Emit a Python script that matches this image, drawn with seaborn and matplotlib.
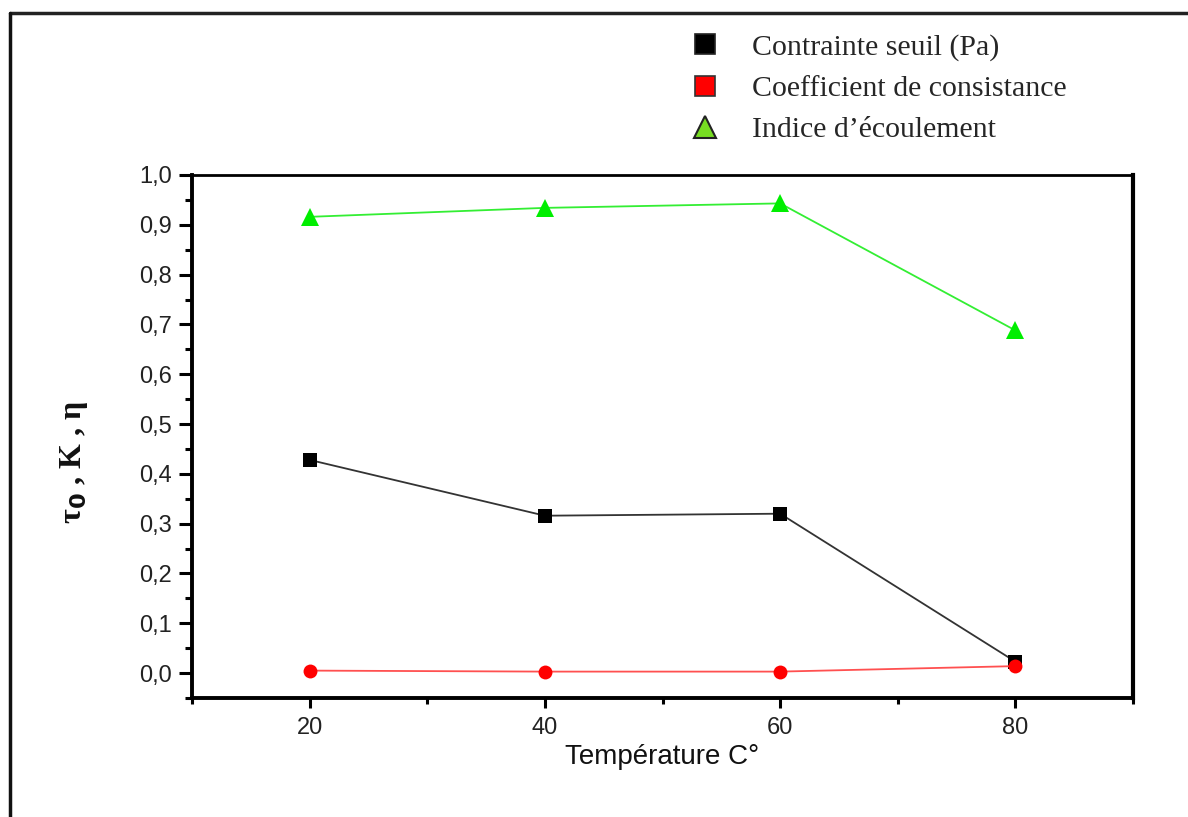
import matplotlib
matplotlib.use("Agg")
import matplotlib.pyplot as plt
import seaborn as sns
import numpy as np
from matplotlib.lines import Line2D
from matplotlib.ticker import MultipleLocator, FuncFormatter

temperature = [20, 40, 60, 80]
contrainte_seuil = [0.428, 0.316, 0.320, 0.023]
coeff_consistance = [0.005, 0.003, 0.003, 0.014]
indice_ecoulement = [0.916, 0.934, 0.943, 0.688]
labels = ["Contrainte seuil (Pa)", "Coefficient de consistance", "Indice d\u2019\u00e9coulement"]

sns.set_theme(style="white")
plt.rcParams['font.family'] = ['Liberation Sans', 'DejaVu Sans']

fig = plt.figure(figsize=(11.88, 8.17), dpi=100)
ax = fig.add_axes([192/1188, 1-698/817, (1133-192)/1188, (698-175)/817])

sns.lineplot(x=temperature, y=indice_ecoulement, ax=ax, color="#33ee33", lw=1.3,
             marker="^", markersize=13, markeredgewidth=0, markerfacecolor="#00ee00", legend=False)
sns.lineplot(x=temperature, y=contrainte_seuil, ax=ax, color="#333333", lw=1.3,
             marker="s", markersize=10, markeredgewidth=0, markerfacecolor="black", legend=False)
sns.lineplot(x=temperature, y=coeff_consistance, ax=ax, color="#ff5050", lw=1.3,
             marker="o", markersize=10, markeredgewidth=0, markerfacecolor="#ff0000", legend=False)

ax.set_xlim(10, 90)
ax.set_ylim(-0.05, 1.0)
ax.xaxis.set_major_locator(MultipleLocator(20))
ax.xaxis.set_minor_locator(MultipleLocator(10))
ax.yaxis.set_major_locator(MultipleLocator(0.1))
ax.yaxis.set_minor_locator(MultipleLocator(0.05))
ax.yaxis.set_major_formatter(FuncFormatter(lambda v, p: f"{v:.1f}".replace(".", ",")))
ax.tick_params(axis="both", which="both", direction="out", width=2.2, colors="black",
               left=True, bottom=True, labelcolor="#222222", labelsize=17)
ax.tick_params(axis="y", which="major", length=9.5, pad=5)
ax.tick_params(axis="y", which="minor", length=5)
ax.tick_params(axis="x", which="major", length=7, pad=7)
ax.tick_params(axis="x", which="minor", length=4)
for s in ["left", "bottom"]:
    ax.spines[s].set_linewidth(2.8)
    ax.spines[s].set_color("black")
for s in ["top", "right"]:
    ax.spines[s].set_linewidth(2.0)
    ax.spines[s].set_color("black")
ax.spines["right"].set_linewidth(3.0)

ax.set_xlabel("Temp\u00e9rature C\u00b0", fontsize=20, color="#111111", labelpad=3)
ax.set_ylabel("\u03c4$_\\mathbf{0}$ , K , \u03b7", fontsize=23, fontweight="bold",
              family=["Liberation Serif", "DejaVu Serif"], color="#111111")
ax.yaxis.set_label_coords((90-192)/941, (698-462)/523)

handles = [
    Line2D([], [], ls="none", marker="s", markersize=15, markerfacecolor="black", markeredgecolor="#222222", markeredgewidth=1.2),
    Line2D([], [], ls="none", marker="s", markersize=15, markerfacecolor="#ff0000", markeredgecolor="#333333", markeredgewidth=1.2),
    Line2D([], [], ls="none", marker="^", markersize=16, markerfacecolor="#77dd22", markeredgecolor="#222222", markeredgewidth=1.5),
]
fig.legend(handles, labels, loc="upper left", bbox_to_anchor=(671/1188, 1-22/817),
           frameon=False, prop={"family": ["Liberation Serif", "DejaVu Serif"], "size": 21.5},
           handletextpad=0.8, labelspacing=0.47, handlelength=1.5, borderaxespad=0)

# outer frame lines
fig.add_artist(Line2D([10/1188, 1.0], [1-13/817, 1-13/817], transform=fig.transFigure, color="#222222", lw=2.5))
fig.add_artist(Line2D([10/1188, 10/1188], [1-13/817, 0.0], transform=fig.transFigure, color="#111111", lw=2.5))

fig.savefig("out.png", dpi=100)
